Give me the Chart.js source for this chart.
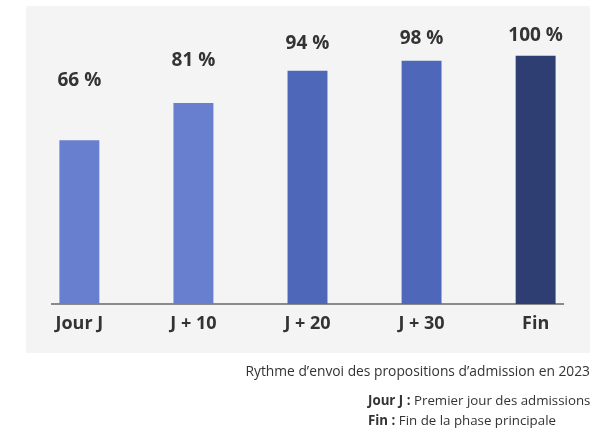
<!DOCTYPE html>
<html>
<head>
<meta charset="utf-8">
<script src="https://cdn.jsdelivr.net/npm/chart.js@4.4.0/dist/chart.umd.min.js"></script>
<style>
    html, body { margin: 0; padding: 0; background: #fff; }
    #wrap { position: relative; width: 595px; height: 431px; }
    #chart { position: absolute; left: 0; top: 0; }
    .note {
        position: absolute;
        font-family: "Open Sans", sans-serif;
        font-size: 13px;
        color: #333;
        white-space: nowrap;
    }
    .note b { font-weight: 700; }
</style>
</head>
<body>
<div id="wrap">
    <canvas id="chart" width="595" height="431"></canvas>
    <div class="note" style="right: 5px; top: 361px; font-size: 13.8px;">Rythme d’envoi des propositions d’admission en 2023</div>
    <div class="note" style="left: 368px; top: 391px; font-size: 13.3px;"><b>Jour J :</b> Premier jour des admissions</div>
    <div class="note" style="left: 368px; top: 411px; font-size: 13.3px;"><b>Fin :</b> Fin de la phase principale</div>
</div>
<script>
const categories = ["Jour J", "J + 10", "J + 20", "J + 30", "Fin"];
const values = [66, 81, 94, 98, 100];
const valueLabels = ["66 %", "81 %", "94 %", "98 %", "100 %"];
const barColors = ["#687ece", "#687ece", "#4e67b9", "#4e67b9", "#2f3e72"];

// hauteur des étiquettes (en unités de l'axe y)
const labelLevels = [90.2, 98.2, 105, 107, 108];

const panelPlugin = {
    id: "panel",
    beforeDraw(chart) {
        const ctx = chart.ctx;
        ctx.save();
        ctx.fillStyle = "#f4f4f4";
        ctx.fillRect(26, 6, 564, 347);
        ctx.restore();
    },
};

const valueLabelPlugin = {
    id: "valueLabels",
    afterDatasetsDraw(chart) {
        const ctx = chart.ctx;
        const meta = chart.getDatasetMeta(0);
        const y = chart.scales.y;
        ctx.save();
        ctx.font = "700 19px 'Open Sans', sans-serif";
        ctx.fillStyle = "#333";
        ctx.textAlign = "center";
        ctx.textBaseline = "middle";
        meta.data.forEach((bar, i) => {
            ctx.fillText(valueLabels[i], bar.x, y.getPixelForValue(labelLevels[i]));
        });
        ctx.restore();
    },
};

new Chart(document.getElementById("chart").getContext("2d"), {
    type: "bar",
    data: {
        datasets: [
            {
                data: values.map((v, i) => ({ x: i, y: v })),
                backgroundColor: barColors,
                barPercentage: 0.35,
                categoryPercentage: 1,
            },
        ],
    },
    options: {
        responsive: false,
        animation: false,
        layout: { padding: { left: 52, right: 32, top: 31, bottom: 87.5 } },
        plugins: {
            legend: { display: false },
            tooltip: { enabled: false },
        },
        scales: {
            x: {
                type: "linear",
                offset: false,
                min: -0.24,
                max: 4.24,
                afterBuildTicks: (scale) => {
                    scale.ticks = categories.map((c, i) => ({ value: i }));
                },
                grid: { display: false, drawTicks: false },
                border: { display: true, color: "#8a8a8a", width: 2 },
                ticks: {
                    padding: 9,
                    color: "#333",
                    font: { family: "'Open Sans', sans-serif", size: 18, weight: "700" },
                    callback: (v) => categories[v],
                    autoSkip: false,
                    maxRotation: 0,
                },
            },
            y: {
                display: false,
                min: 0,
                max: 110,
            },
        },
    },
    plugins: [panelPlugin, valueLabelPlugin],
});
</script>
</body>
</html>
